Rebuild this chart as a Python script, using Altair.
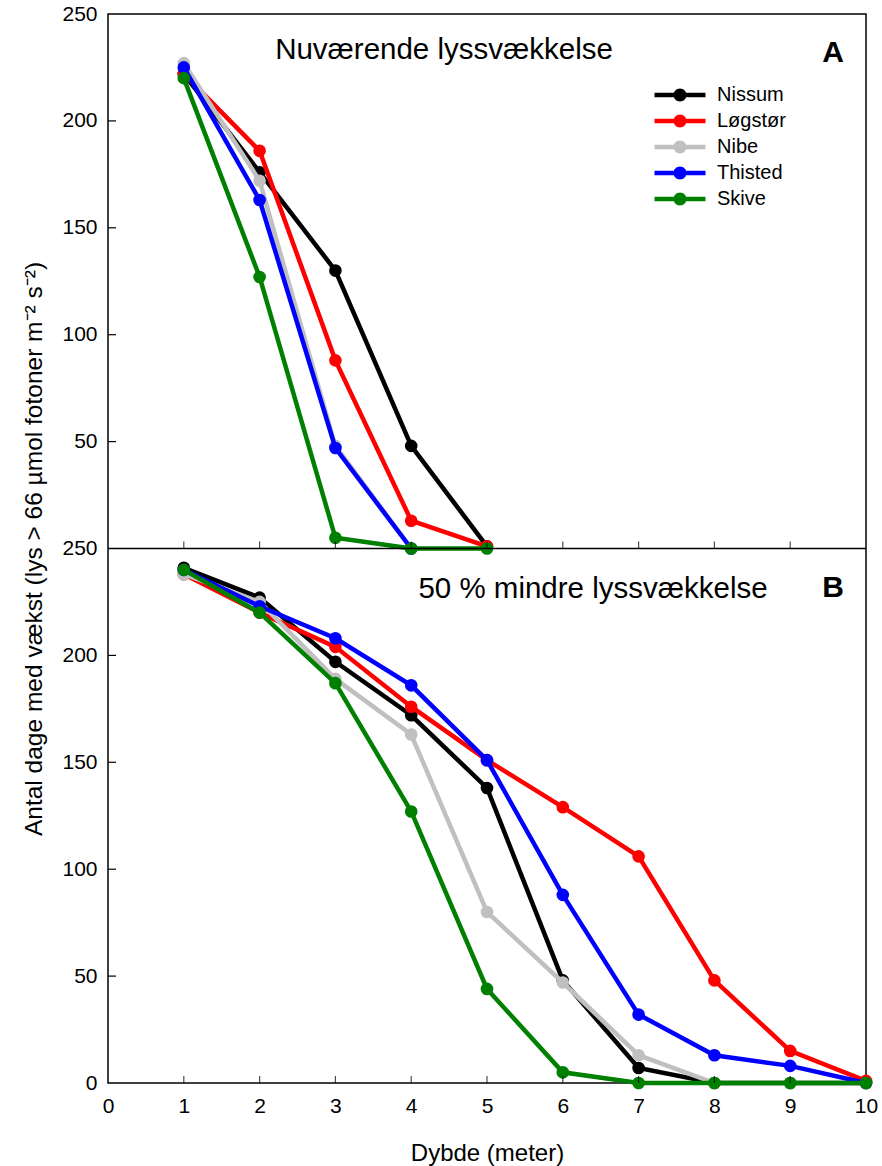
import altair as alt
import pandas as pd

FONT = "Liberation Sans"

sites = ["Nissum", "Løgstør", "Nibe", "Thisted", "Skive"]
colors = ["#000000", "#ff0000", "#c0c0c0", "#0000ff", "#008000"]

# Panel A: current light attenuation (Nuværende lyssvækkelse)
depth_a = {
    "Nissum": [1, 2, 3, 4, 5],
    "Løgstør": [1, 2, 3, 4, 5],
    "Nibe": [1, 2, 3, 4],
    "Thisted": [1, 2, 3, 4],
    "Skive": [1, 2, 3, 4, 5],
}
days_a = {
    "Nissum": [222, 176, 130, 48, 1],
    "Løgstør": [222, 186, 88, 13, 1],
    "Nibe": [227, 172, 48, 0],
    "Thisted": [225, 163, 47, 0],
    "Skive": [220, 127, 5, 0, 0],
}

# Panel B: 50 % less light attenuation
depth_b = [1, 2, 3, 4, 5, 6, 7, 8, 9, 10]
days_b = {
    "Nissum": [241, 227, 197, 172, 138, 48, 7, 0, 0, 0],
    "Løgstør": [238, 220, 204, 176, 151, 129, 106, 48, 15, 1],
    "Nibe": [238, 225, 189, 163, 80, 47, 13, 0, 0, 0],
    "Thisted": [240, 223, 208, 186, 151, 88, 32, 13, 8, 0],
    "Skive": [240, 220, 187, 127, 44, 5, 0, 0, 0, 0],
}

x_labels = [0, 1, 2, 3, 4, 5, 6, 7, 8, 9, 10]
x_ticks = [1, 2, 3, 4, 5, 6, 7, 8, 9]
y_labels = [0, 50, 100, 150, 200, 250]
y_ticks = [50, 100, 150, 200]
panel_max = 250  # each panel spans 0..250; panel A is stacked above panel B

W, H = 758, 1069

rows = []
for s in sites:
    for d, v in zip(depth_a[s], days_a[s]):
        rows.append({"site": s, "panel": "A", "depth": d, "days": v})
    for d, v in zip(depth_b, days_b[s]):
        rows.append({"site": s, "panel": "B", "depth": d, "days": v})
df = pd.DataFrame(rows)

stack_vals = y_labels + [v + panel_max for v in y_labels[1:]]
tick_vals = y_ticks + [v + panel_max for v in y_ticks]

color_scale = alt.Scale(domain=sites, range=colors)
x_scale = alt.Scale(domain=[0, 10], nice=False, zero=False)
y_scale = alt.Scale(domain=[0, 2 * panel_max], nice=False)

# legend glyph: a line segment with a dot in the middle
sym_path = ("M-2,-0.17 L2,-0.17 L2,0.17 L-2,0.17 Z "
            "M-0.51,0 A0.51,0.51 0 1,1 0.51,0 A0.51,0.51 0 1,1 -0.51,0 Z")

legend = alt.Legend(
    orient="none", legendX=559, legendY=68, title=None,
    symbolType=sym_path, symbolSize=650, symbolStrokeWidth=0,
    symbolOpacity=1, labelFont=FONT, labelFontSize=20, labelColor="black",
    labelOffset=24, rowPadding=3, padding=0,
)

y_axis = alt.Axis(values=stack_vals,
                  labelExpr=f"datum.value > {panel_max} ? datum.value - {panel_max} : datum.value",
                  domain=False, ticks=False, grid=False, labelFlush=False,
                  labelFont=FONT, labelFontSize=21, labelColor="black",
                  labelPadding=11,
                  title="Antal dage med vækst (lys > 66 µmol fotoner m⁻² s⁻²)",
                  titleFont=FONT, titleFontSize=24.5, titleFontWeight="normal",
                  titleColor="black", titleAngle=270, titleX=-67,
                  titleAlign="center", titleBaseline="alphabetic")
x_axis = alt.Axis(values=x_labels, format="d", domain=False, labelFlush=False,
                  ticks=False, grid=False, labelFont=FONT, labelFontSize=21,
                  labelColor="black", labelPadding=12,
                  title="Dybde (meter)", titleFont=FONT, titleFontSize=24,
                  titleFontWeight="normal", titleColor="black",
                  titleY=77, titleBaseline="alphabetic")

base = alt.Chart(df).transform_calculate(
    yy=f"datum.panel == 'A' ? datum.days + {panel_max} : datum.days")
enc_x = alt.X("depth:Q", scale=x_scale, axis=x_axis)
enc_y = alt.Y("yy:Q", scale=y_scale, axis=y_axis)
enc_c = alt.Color("site:N", scale=color_scale, legend=legend)

layers = []
for s in sites:
    sub = base.transform_filter(alt.datum.site == s)
    layers.append(sub.mark_line(strokeWidth=4.5).encode(
        x=enc_x, y=enc_y, detail="panel:N", color=enc_c))
    layers.append(sub.mark_circle(size=160, opacity=1).encode(
        x=enc_x, y=enc_y, color=enc_c))

divider = alt.Chart(pd.DataFrame({"v": [panel_max]})).mark_rule(
    color="black", strokeWidth=1.5).encode(
    y=alt.Y("v:Q", scale=y_scale, axis=y_axis),
    x=alt.value(0), x2=alt.value(W))

ty = alt.Chart(pd.DataFrame({"v": tick_vals})).mark_rule(
    color="black", strokeWidth=1.2).encode(
    y=alt.Y("v:Q", scale=y_scale, axis=y_axis),
    x=alt.value(0), x2=alt.value(8))

tick_rows = [{"x": t, "base": b} for b in [0, panel_max] for t in x_ticks]
tx = alt.Chart(pd.DataFrame(tick_rows)).mark_tick(
    color="black", thickness=1.2, size=7, orient="vertical",
    yOffset=-3.5).encode(
    x=alt.X("x:Q", scale=x_scale, axis=x_axis),
    y=alt.Y("base:Q", scale=y_scale, axis=y_axis))

panel_titles = pd.DataFrame({
    "t": ["Nuværende lyssvækkelse", "50 % mindre lyssvækkelse"],
    "px": [336, 485], "py": [36, 575]})
texts = []
for _, r in panel_titles.iterrows():
    texts.append(alt.Chart(pd.DataFrame({"t": [r.t]})).mark_text(
        font=FONT, fontSize=29.5, color="black", align="center",
        baseline="middle").encode(x=alt.value(float(r.px)),
                                  y=alt.value(float(r.py)), text="t:N"))
for lab, py in [("A", 39), ("B", 574)]:
    texts.append(alt.Chart(pd.DataFrame({"t": [lab]})).mark_text(
        font=FONT, fontSize=30, fontWeight="bold", color="black",
        align="center", baseline="middle").encode(
        x=alt.value(725), y=alt.value(py), text="t:N"))

chart = alt.layer(*layers, divider, ty, tx, *texts).properties(
    width=W, height=H,
    autosize=alt.AutoSizeParams(type="none"),
    padding={"left": 108, "top": 14, "right": 16, "bottom": 83},
    background="white",
).configure_view(stroke="black", strokeWidth=1.5)

chart.save("out.html", embed_options={"renderer": "svg", "actions": False})
